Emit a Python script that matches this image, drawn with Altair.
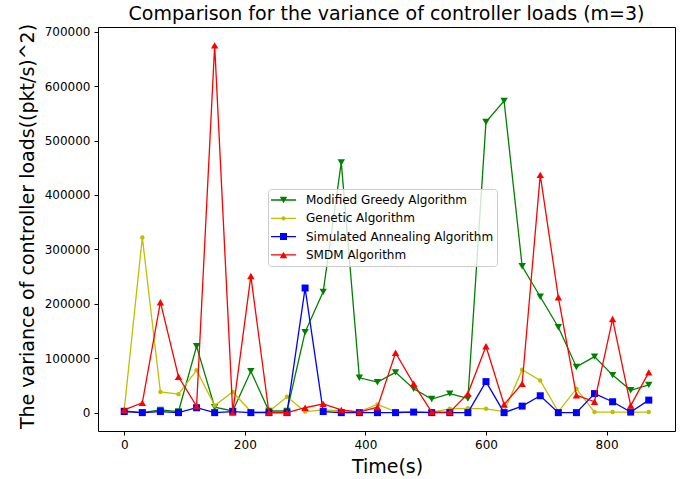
import altair as alt
import pandas as pd

# ---- data ----
times = [0, 30, 60, 90, 120, 150, 180, 210, 240, 270, 300, 330, 360, 390, 420,
         450, 480, 510, 540, 570, 600, 630, 660, 690, 720, 750, 780, 810, 840, 870]

greedy = [3000, 0, 5000, 2000, 122000, 10000, 3000, 76000, 3000, 3000,
          148000, 222000, 460000, 64000, 56000, 74000, 44000, 25000, 35000, 26000,
          534000, 573000, 269000, 213000, 157000, 84000, 103000, 69000, 41000, 51000]

genetic = [5000, 322000, 38000, 34000, 78000, 13000, 38000, 2000, 2000, 29000,
           2000, 5000, 3000, 2000, 15000, 2000, 2000, 1000, 7000, 8000,
           7000, 2000, 79000, 59000, 2000, 44000, 1000, 1000, 1000, 1000]

annealing = [2000, 0, 2000, 0, 9000, 0, 2000, 0, 0, 0,
             229000, 2000, 0, 0, 0, 0, 1000, 0, 0, 0,
             57000, 0, 12000, 31000, 0, 0, 35000, 20000, 1000, 23000]

smdm = [5000, 18000, 203000, 66000, 12000, 675000, 0, 251000, 0, 0,
        9000, 16000, 5000, 1000, 10000, 110000, 53000, 1000, 1000, 35000,
        122000, 15000, 53000, 437000, 212000, 32000, 20000, 172000, 13000, 74000]

series_names = ["Modified Greedy Algorithm", "Genetic Algorithm",
                "Simulated Annealing Algorithm", "SMDM Algorithm"]
series_values = [greedy, genetic, annealing, smdm]
series_colors = ["#008000", "#bfbf00", "#0000ff", "#ff0000"]
series_shapes = ["triangle-down", "circle", "square", "triangle-up"]
marker_sizes = [55, 20, 49, 55]

x_ticks = [0, 200, 400, 600, 800]
y_ticks = [0, 100000, 200000, 300000, 400000, 500000, 600000, 700000]

# legend symbols: line segment + marker (unit path space)
LINE = "M-1,-0.052H1V0.052H-1Z"
legend_paths = [
    LINE + "M-0.3,-0.26L0.3,-0.26L0,0.26Z",
    LINE + "M-0.17,0A0.17,0.17 0 1,1 0.17,0A0.17,0.17 0 1,1 -0.17,0Z",
    LINE + "M-0.28,-0.28H0.28V0.28H-0.28Z",
    LINE + "M-0.3,0.26L0,-0.26L0.3,0.26Z",
]

rows = []
for name, vals in zip(series_names, series_values):
    for t, v in zip(times, vals):
        rows.append({"t": t, "v": v, "s": name})
df = pd.DataFrame(rows)

FONT = "DejaVu Sans"

x_enc = alt.X("t:Q",
              scale=alt.Scale(domain=[-43.5, 913.5], nice=False, zero=False),
              axis=alt.Axis(values=x_ticks, title="Time(s)", grid=False, domain=False,
                            tickSize=4, tickColor="black", labelPadding=4,
                            labelFontSize=12, labelFont=FONT, labelColor="black",
                            titleFontSize=19, titleFont=FONT, titleFontWeight="normal",
                            titleColor="black", titleX=289, titleY=35,
                            titleAlign="center", titleBaseline="middle"))
y_enc = alt.Y("v:Q",
              scale=alt.Scale(domain=[-33750, 708750], nice=False, zero=False),
              axis=alt.Axis(values=y_ticks, format="d",
                            title="The variance of controller loads((pkt/s)^2)",
                            grid=False, domain=False,
                            tickSize=4, tickColor="black", labelPadding=4,
                            labelFontSize=12, labelFont=FONT, labelColor="black",
                            titleFontSize=19, titleFont=FONT, titleFontWeight="normal",
                            titleColor="black", titleX=-71, titleY=199,
                            titleAngle=270, titleAlign="center",
                            titleBaseline="middle"))

layers = []
for name, col, shp, sz in zip(series_names, series_colors, series_shapes, marker_sizes):
    base = alt.Chart(df).transform_filter(alt.datum.s == name)
    layers.append(base.mark_line(color=col, strokeWidth=1.3).encode(x=x_enc, y=y_enc))
    layers.append(base.mark_point(shape=shp, filled=True, color=col, size=sz,
                                  opacity=1, strokeWidth=0).encode(x=x_enc, y=y_enc))

legend_layer = alt.Chart(df).transform_filter("datum.v < -1e12").mark_point(
    filled=True, opacity=1, size=625, strokeWidth=0
).encode(
    x=x_enc, y=y_enc,
    color=alt.Color("s:N", scale=alt.Scale(domain=series_names, range=series_colors),
                    legend=alt.Legend(title=None, orient="none", legendX=170, legendY=162,
                                      padding=3, symbolSize=625, symbolStrokeWidth=0,
                                      symbolOpacity=1, clipHeight=16, rowPadding=2.3,
                                      labelOffset=10, labelFontSize=12, labelFont=FONT,
                                      labelColor="black", labelLimit=400,
                                      fillColor="rgba(255,255,255,0.8)",
                                      strokeColor="#cccccc", cornerRadius=3)),
    shape=alt.Shape("s:N", scale=alt.Scale(domain=series_names, range=legend_paths)),
)

chart = alt.layer(*layers, legend_layer).properties(
    width=577, height=404,
    autosize=alt.AutoSizeParams(type="none"),
    padding={"left": 98, "top": 27, "right": 16, "bottom": 48},
    title=alt.TitleParams("Comparison for the variance of controller loads (m=3)",
                          fontSize=19, font=FONT, fontWeight="normal", color="black",
                          anchor="middle", baseline="alphabetic", offset=6, dy=22),
).configure(background="white").configure_view(stroke="black", strokeWidth=1)

chart.save("out.html", embed_options={"renderer": "svg", "actions": False})
